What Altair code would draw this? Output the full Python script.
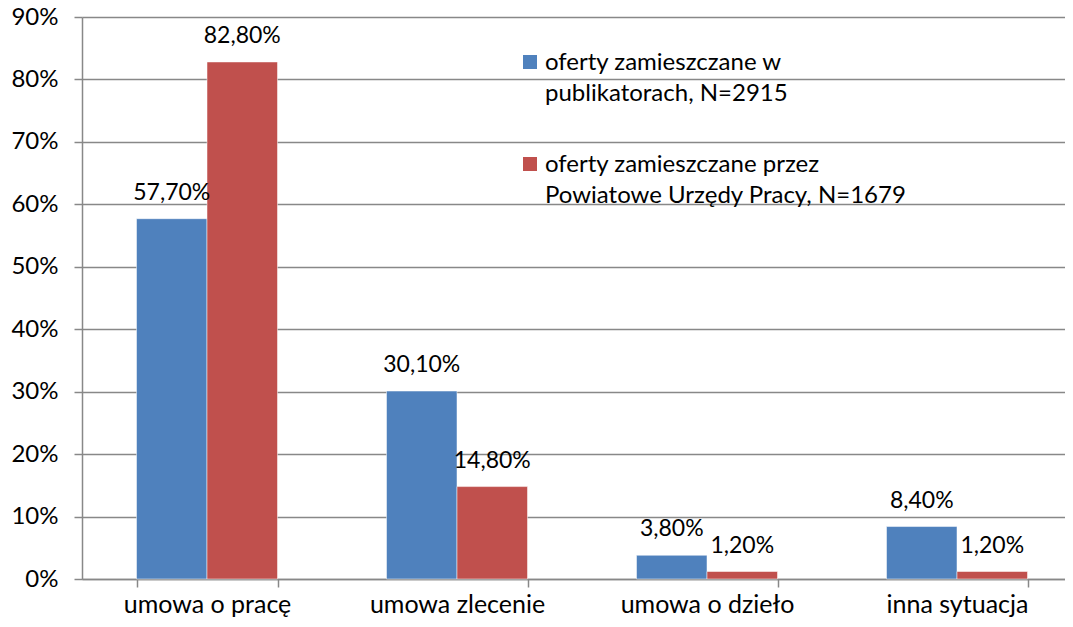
import altair as alt
import pandas as pd

categories = ["umowa o pracę", "umowa zlecenie", "umowa o dzieło", "inna sytuacja"]
series = [
    "oferty zamieszczane w\npublikatorach, N=2915",
    "oferty zamieszczane przez\nPowiatowe Urzędy Pracy, N=1679",
]
publikatory = [57.7, 30.1, 3.8, 8.4]
pup = [82.8, 14.8, 1.2, 1.2]
colors = ["#4F81BD", "#C0504D"]
y_ticks = list(range(0, 91, 10))

rows = []
for i, c in enumerate(categories):
    for s, vals in zip(series, [publikatory, pup]):
        v = vals[i]
        rows.append({
            "kat": c,
            "seria": s,
            "wartosc": v / 100,
            "etykieta": f"{v:.2f}".replace(".", ",") + "%",
        })
df = pd.DataFrame(rows)
legend_df = pd.DataFrame({"seria": series})

FONT = "Lato"

color = alt.Color("seria:N", sort=series,
                  scale=alt.Scale(domain=series, range=colors), legend=None)

x = alt.X(
    "kat:N", sort=categories, title=None,
    scale=alt.Scale(range=[0, 1000], paddingInner=0.436, paddingOuter=0.218),
    axis=alt.Axis(tickBand="extent", labelAngle=0, labelFontSize=25, labelFont=FONT,
                  labelColor="black", labelPadding=5, tickSize=8, grid=False),
)
xo = alt.XOffset("seria:N", sort=series, scale=alt.Scale(paddingInner=0, paddingOuter=0))
y = alt.Y(
    "wartosc:Q", title=None,
    scale=alt.Scale(domain=[0, 0.9], nice=False),
    axis=alt.Axis(format=".0%", values=[t / 100 for t in y_ticks], labelFontSize=24,
                  labelFont=FONT, labelColor="black", labelPadding=16, tickSize=8,
                  grid=True),
)

bars = alt.Chart(df).mark_bar(stroke="white", strokeWidth=0.5).encode(
    x=x, xOffset=xo, y=y, color=color,
)

labels = alt.Chart(df).mark_text(
    baseline="alphabetic", dy=-19, fontSize=23, font=FONT, color="black"
).encode(x=x, xOffset=xo, y=y, text="etykieta:N")

main = alt.layer(bars, labels)

# legend drawn inside the plot, rows placed by a point scale
ly = alt.Y("seria:N", sort=series, axis=None,
           scale=alt.Scale(domain=series, range=[45, 147], padding=0))
leg_sq = alt.Chart(legend_df).mark_square(size=196, opacity=1).encode(
    x=alt.value(448), y=ly, color=color,
)
leg_txt = alt.Chart(legend_df).transform_calculate(
    lines="split(datum.seria, '\\n')"
).mark_text(
    align="left", baseline="alphabetic", dy=8, lineHeight=31,
    fontSize=24, font=FONT, color="black",
).encode(x=alt.value(463), y=ly, text="lines:N")
legend = alt.layer(leg_sq, leg_txt)

chart = (
    alt.layer(main, legend)
    .resolve_scale(y="independent")
    .properties(width=983, height=562, autosize="none",
                padding={"left": 74, "top": 9, "right": 0, "bottom": 40})
    .configure_view(stroke=None)
    .configure_axis(domainColor="#888888", gridColor="#888888", tickColor="#888888",
                    domainWidth=1.5, gridWidth=1.5, tickWidth=1.5)
)

chart.save("out.html", embed_options={"renderer": "svg", "actions": False})
